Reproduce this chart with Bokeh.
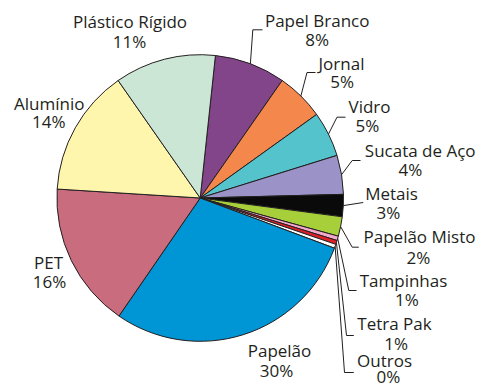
import numpy as np
from bokeh.plotting import figure
from bokeh.models import Range1d, ColumnDataSource
from bokeh.core.properties import value
from bokeh.embed import file_html
from bokeh.resources import INLINE

# ---- data (clockwise from the top) ----
categories = ["Papel Branco", "Jornal", "Vidro", "Sucata de Aço", "Metais",
              "Papelão Misto", "Tampinhas", "Tetra Pak", "Outros", "Papelão",
              "PET", "Alumínio", "Plástico Rígido"]
shares = [8.0, 5.4, 5.1, 4.4, 2.5, 2.2, 0.5, 0.45, 0.45, 28.9, 16.4, 14.3, 11.4]
pct_labels = ["8%", "5%", "5%", "4%", "3%", "2%", "1%", "1%", "0%",
              "30%", "16%", "14%", "11%"]

# ---- styles / layout ----
colors = ["#83458a", "#f4874b", "#54c3cc", "#9b92c8", "#0a0a0a", "#a6cf3a",
          "#f3a9cc", "#e21f26", "#ffffff", "#0096d6", "#c96d7e", "#fef6ad",
          "#cce6d6"]
W, H = 481, 390
cx, cy_img, R = 199.7, 197.5, 143.3
start_deg = 83.9
# label line centres (image px): name, percent
name_pos = [(316.7, 20), (341, 62.5), (369, 106), (419.7, 150), (391, 192.5),
            (419, 236), (403, 280), (394, 323), (384, 360), (279, 350),
            (48, 262), (48.8, 102.5), (129.5, 21)]
pct_pos = [(316.7, 39), (341.7, 81), (367, 125), (410, 168.5), (388, 211.5),
           (418, 256.5), (406.5, 298.5), (395.7, 342.7), (388, 376), (276, 370),
           (49, 280.5), (48.3, 121), (129, 40.5)]
# leader elbows/ends (image px), None = no leader
leaders = [[(252.3, 29.3), (262, 29.3)], [(306.5, 72), (315, 72)],
           [(336.5, 116.7), (345, 116.7)], [(351.7, 160), (360, 160)],
           [(362.7, 202)], [(351.7, 246.7), (358.3, 246.7)],
           [(348.3, 290), (356, 290)], [(346, 335), (353.3, 335)],
           [(344, 372), (353.3, 372)], None, None, None, None]

vals = np.array(shares, dtype=float)
fr = vals / vals.sum()
cum_before = np.concatenate([[0], np.cumsum(fr)[:-1]])
a_top = np.deg2rad(start_deg) - 2 * np.pi * cum_before
a_bot = a_top - 2 * np.pi * fr
a_mid = (a_top + a_bot) / 2

cy = H - cy_img

p = figure(width=W, height=H, output_backend="svg", toolbar_location=None,
           x_range=Range1d(0, W), y_range=Range1d(0, H),
           min_border=0, outline_line_color=None)
p.axis.visible = False
p.grid.visible = False
p.background_fill_color = "white"
p.border_fill_color = "white"

src = ColumnDataSource(dict(x=[cx] * len(vals), y=[cy] * len(vals),
                            s=a_bot, e=a_top, c=colors))
p.wedge(x="x", y="y", radius=R, start_angle="s", end_angle="e", fill_color="c",
        line_color="#231f20", line_width=1, source=src)

xs, ys = [], []
for i, pts in enumerate(leaders):
    if pts is None:
        continue
    x0 = cx + R * np.cos(a_mid[i])
    y0 = cy + R * np.sin(a_mid[i])
    xs.append([x0] + [q[0] for q in pts])
    ys.append([y0] + [H - q[1] for q in pts])
p.multi_line(xs=xs, ys=ys, line_color="#231f20", line_width=1)

font = value("Open Sans")
p.text(x=[q[0] for q in name_pos], y=[H - q[1] for q in name_pos], text=categories,
       text_font=font, text_font_size="17px", text_color="#231f20",
       text_align="center", text_baseline="middle")
p.text(x=[q[0] for q in pct_pos], y=[H - q[1] for q in pct_pos], text=pct_labels,
       text_font=font, text_font_size="17px", text_color="#231f20",
       text_align="center", text_baseline="middle")

open("out.html", "w").write(file_html(p, INLINE))
